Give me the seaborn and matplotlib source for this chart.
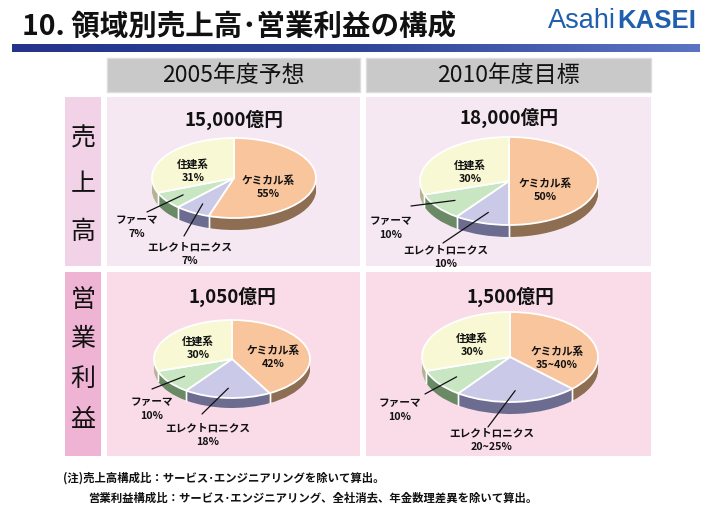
import numpy as np
import matplotlib
matplotlib.use('Agg')
import matplotlib.pyplot as plt
import seaborn as sns
from matplotlib.colors import LinearSegmentedColormap
from matplotlib.patches import Rectangle

sns.set_theme(style='white')
plt.rcParams['font.family'] = ['Noto Sans CJK JP', 'DejaVu Sans']

W, H = 706, 507

# data
title = '10. 領域別売上高･営業利益の構成'
col_titles = ['2005年度予想', '2010年度目標']
row_titles = ['売上高', '営業利益']
segments = ['ケミカル系', 'エレクトロニクス', 'ファーマ', '住建系']
sales_2005 = [55, 7, 7, 31]
sales_2010 = [50, 10, 10, 30]
profit_2005 = [42, 18, 10, 30]
profit_2010 = [37.5, 22.5, 10, 30]   # ranges 35~40 / 20~25 drawn at midpoint
sales_2005_lbl = ['55%', '7%', '7%', '31%']
sales_2010_lbl = ['50%', '10%', '10%', '30%']
profit_2005_lbl = ['42%', '18%', '10%', '30%']
profit_2010_lbl = ['35~40%', '20~25%', '10%', '30%']
totals = ['15,000億円', '18,000億円', '1,050億円', '1,500億円']
notes = ['(注)売上高構成比：サービス･エンジニアリングを除いて算出。',
         '営業利益構成比：サービス･エンジニアリング、全社消去、年金数理差異を除いて算出。']

top_colors = ['#f9c59c', '#cacae8', '#c9e6c3', '#f8f8d4']
side_colors = ['#8e6e52', '#6c6c90', '#6a8a66', '#b4b490']

fig = plt.figure(figsize=(W / 100, H / 100), dpi=100)
ax = fig.add_axes([0, 0, 1, 1])
ax.set_xlim(0, W)
ax.set_ylim(H, 0)
ax.axis('off')

# title + logo
ax.text(22, 27, title, fontsize=20.5, fontweight='bold', va='center', ha='left', color='#111111')
ax.text(616, 21, 'Asahi', fontsize=19.5, family='Liberation Sans', color='#1f5fae', va='center', ha='right')
ax.text(617, 21, 'KASEI', fontsize=18.5, family='Liberation Sans', fontweight='bold', color='#1f5fae',
        va='center', ha='left')
grad = LinearSegmentedColormap.from_list('bar', ['#24348a', '#2f4598', '#5a74c4'])
ax.imshow(np.linspace(0, 1, 256).reshape(1, -1), cmap=grad, aspect='auto',
          extent=(12, 700, 52, 44), zorder=1)

# grid cells
col_x = [(107, 360), (366, 651)]
row_y = [(97, 266), (272, 456)]
panel_bg = ['#f6e8f2', '#fadce8']
label_bg = ['#f2d2e6', '#efb3d3']
for (x0, x1) in col_x:
    ax.add_patch(Rectangle((x0, 58), x1 - x0, 34, facecolor='#c9c9c9', edgecolor='#dddddd', lw=1))
for j, (y0, y1) in enumerate(row_y):
    ax.add_patch(Rectangle((65, y0), 36, y1 - y0, facecolor=label_bg[j], edgecolor='none'))
    for (x0, x1) in col_x:
        ax.add_patch(Rectangle((x0, y0), x1 - x0, y1 - y0, facecolor=panel_bg[j], edgecolor='none'))
for (x0, x1), t in zip(col_x, col_titles):
    ax.text((x0 + x1) / 2, 76, t, fontsize=16.5, ha='center', va='center', color='#111111')

row_char_y = [[138, 184, 232], [300, 339, 379, 420]]
for chars, ys in zip(row_titles, row_char_y):
    for ch, y in zip(chars, ys):
        ax.text(83, y, ch, fontsize=18, ha='center', va='center', color='#111111')

for i, (note, x) in enumerate(zip(notes, [63, 88])):
    ax.text(x, 478 + 20 * i, note, fontsize=8.2, fontweight='bold', ha='left', va='center', color='#111111')

# pies
panels = [
    dict(vals=sales_2005, lbl=sales_2005_lbl, total=totals[0], cx=234, cy=178, rx=82, ry=40, depth=12, ty=120,
         pos=[(268, 187), (190, 254), (137, 227), (193, 171)], lstart=[None, (184, 236), (147, 212), None]),
    dict(vals=sales_2010, lbl=sales_2010_lbl, total=totals[1], cx=509, cy=181, rx=89, ry=44, depth=12, ty=118,
         pos=[(545, 190), (446, 257), (391, 228), (470, 172)], lstart=[None, (443, 243), (411, 206), None]),
    dict(vals=profit_2005, lbl=profit_2005_lbl, total=totals[2], cx=232, cy=359, rx=78, ry=39, depth=10, ty=297,
         pos=[(273, 357), (208, 435), (152, 409), (198, 348)], lstart=[None, (202, 414), (152, 389), None]),
    dict(vals=profit_2010, lbl=profit_2010_lbl, total=totals[3], cx=510, cy=357, rx=88, ry=45, depth=12, ty=297,
         pos=[(557, 358), (492, 440), (400, 410), (472, 345)], lstart=[None, (488, 427), (425, 394), None]),
]

for p in panels:
    cx, cy, rx, ry, depth = p['cx'], p['cy'], p['rx'], p['ry'], p['depth']
    axp = fig.add_axes([(cx - 1.15 * rx) / W, 1 - (cy + 1.15 * ry + depth) / H,
                        2.3 * rx / W, (2.3 * ry + depth) / H])
    d = depth / ry
    n = int(depth)
    for i in range(n, 0, -1):
        axp.pie(p['vals'], colors=side_colors, startangle=90, counterclock=False,
                center=(0, -d * i / n), wedgeprops=dict(linewidth=0))
    wedges, _ = axp.pie(p['vals'], colors=top_colors, startangle=90, counterclock=False,
                        wedgeprops=dict(edgecolor='white', linewidth=1.3))
    for w in wedges:
        for a in (w.theta1, w.theta2):
            s, c = np.sin(np.radians(a)), np.cos(np.radians(a))
            if s < 0:
                axp.plot([c, c], [s, s - d], color='white', lw=1.0)
    axp.set_aspect('auto')
    axp.set_xlim(-1.15, 1.15)
    axp.set_ylim(-1.15 - d, 1.15)
    axp.axis('off')
    mids = [np.radians((w.theta1 + w.theta2) / 2) for w in wedges]
    p['tips'] = [(cx + 0.75 * rx * np.cos(m), cy - 0.75 * ry * np.sin(m)) for m in mids]

ov = fig.add_axes([0, 0, 1, 1])
ov.set_xlim(0, W)
ov.set_ylim(H, 0)
ov.axis('off')
ov.patch.set_alpha(0)
for p in panels:
    ov.text(p['cx'], p['ty'], p['total'], fontsize=13.5, fontweight='bold', ha='center', va='center',
            color='#111111')
    for k, seg in enumerate(segments):
        x, y = p['pos'][k]
        ov.text(x, y, f"{seg}\n{p['lbl'][k]}", fontsize=7.7, fontweight='bold', ha='center', va='center',
                linespacing=1.4, color='#111111')
        if p['lstart'][k] is not None:
            ov.annotate('', xy=p['tips'][k], xytext=p['lstart'][k],
                        arrowprops=dict(arrowstyle='-', color='#111111', lw=0.9, shrinkA=0, shrinkB=0))

fig.savefig('out.png', dpi=100)
